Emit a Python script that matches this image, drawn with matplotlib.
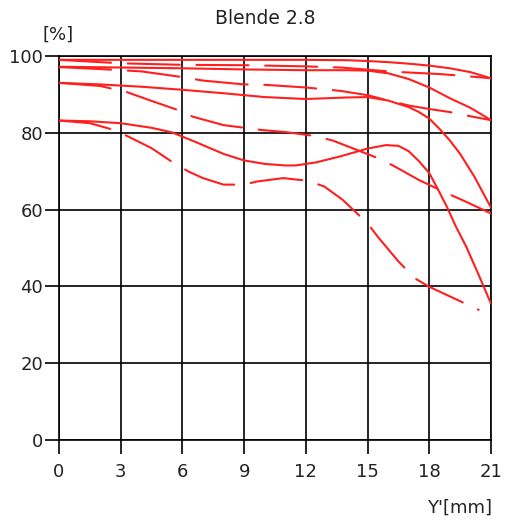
import matplotlib
matplotlib.use("Agg")
import matplotlib.pyplot as plt

# ---- data ----
x_ticks = [0, 3, 6, 9, 12, 15, 18, 21]
y_ticks = [0, 20, 40, 60, 80, 100]

c1s_x = [0, 3, 6, 9, 12, 14, 15, 16, 17, 18, 19, 20, 21]
c1s_y = [99, 99, 99, 99, 99, 98.9, 98.7, 98.4, 98, 97.5, 96.8, 95.8, 94.2]
c1d_x = [0, 3, 6, 9, 12, 13.7, 16, 17, 18.5, 19.7, 21]
c1d_y = [99, 98.1, 97.7, 97.6, 97.3, 97.0, 96.0, 95.7, 95.3, 94.8, 94.2]

c2s_x = [0, 3, 6, 9, 12, 14, 15, 16, 17, 18, 19, 20, 21]
c2s_y = [97.2, 97, 96.8, 96.5, 96.3, 96.3, 96.2, 95.5, 94, 91.8, 89, 86.5, 83.3]
c2d_x = [0, 2, 4, 6, 7, 9, 10, 12, 13.7, 15, 16, 17, 18, 19, 20, 21]
c2d_y = [97.1, 96.6, 96, 94.5, 93.6, 92.6, 92.5, 91.8, 90.9, 89.8, 88.4, 87.1, 86.2, 85.4, 84.3, 83.3]

c3s_x = [0, 2, 4, 6, 8, 10, 12, 14, 15, 16, 17, 17.5, 18, 18.5, 19, 19.5, 20.2, 21]
c3s_y = [93, 92.6, 92, 91.2, 90.3, 89.3, 88.8, 89.2, 89.3, 88.4, 86.7, 85.4, 83.7, 81, 78, 74.5, 68.5, 60.5]
c3d_x = [0, 2, 3.3, 4.5, 5.8, 6.5, 8, 9.9, 11, 12.4, 13.3, 14.5, 15.7, 16.5, 17.5, 18.8, 19.6, 21]
c3d_y = [93, 92.2, 90.6, 88.3, 85.9, 84.2, 82, 80.7, 80.2, 79.2, 78, 75.5, 73, 70.7, 67.7, 64.4, 62.5, 59]

c4s_x = [0, 1.5, 3, 4.5, 5.5, 6.6, 8, 9, 10, 11, 11.5, 12.5, 13.7, 15, 15.9, 16.5, 17, 17.5, 18, 18.4, 18.85, 19.3, 19.8, 20.4, 21]
c4s_y = [83.2, 83, 82.5, 81.3, 80.1, 77.7, 74.5, 72.8, 71.9, 71.5, 71.5, 72.3, 73.9, 75.9, 76.8, 76.6, 75.2, 72.6, 69.5, 65.5, 60.8, 55.5, 50.3, 43, 35.5]
c4d_x = [0, 1.5, 2.5, 3.3, 4.5, 5.56, 6.3, 7, 8, 9, 9.6, 10.9, 12.1, 12.9, 13.8, 15, 15.5, 16.5, 17.3, 18, 19, 20.4]
c4d_y = [83.2, 82.5, 81, 79.2, 76, 72.2, 69.9, 68.2, 66.5, 66.5, 67.3, 68.2, 67.5, 66, 62.5, 56.4, 52.9, 46.5, 42.1, 39.9, 37.4, 33.9]

solid_curves = [(c1s_x, c1s_y), (c2s_x, c2s_y), (c3s_x, c3s_y), (c4s_x, c4s_y)]
dashed_curves = [(c1d_x, c1d_y), (c2d_x, c2d_y), (c3d_x, c3d_y), (c4d_x, c4d_y)]

# ---- figure ----
W, H = 507, 525
fig = plt.figure(figsize=(W / 100, H / 100), dpi=100)
ax = fig.add_axes([59 / W, 1 - 440 / H, (491 - 59) / W, (440 - 56) / H])

red = "#ff1f1f"
for xs, ys in solid_curves:
    ax.plot(xs, ys, color=red, lw=1.5, solid_capstyle="round", solid_joinstyle="round", zorder=3)
for xs, ys in dashed_curves:
    ax.plot(xs, ys, color=red, lw=1.5, dashes=(25, 8), dash_capstyle="round",
            dash_joinstyle="round", zorder=3)

ax.set_xlim(0, 21)
ax.set_ylim(0, 100)
ax.set_xticks(x_ticks)
ax.set_yticks(y_ticks)
ax.set_xticklabels([str(v) for v in x_ticks])
ax.set_yticklabels([str(v) for v in y_ticks])
ax.grid(True, color="black", lw=1.2)
ax.set_axisbelow(True)
for s in ax.spines.values():
    s.set_color("black")
    s.set_linewidth(1.2)
ax.tick_params(axis="x", direction="out", length=10, width=1.2, pad=6.5, labelsize=13, labelcolor="#222222", color="black")
ax.tick_params(axis="y", direction="out", length=10, width=1.2, pad=1.5, labelsize=13, labelcolor="#222222", color="black")

fig.text(265 / W, 1 - 18 / H, "Blende 2.8", ha="center", va="center", fontsize=13.5, color="#222222")
fig.text(58 / W, 1 - 35 / H, "[%]", ha="center", va="center", fontsize=13, color="#222222")
fig.text(492 / W, 1 - 508 / H, "Y'[mm]", ha="right", va="center", fontsize=13, color="#222222")

fig.savefig("out.png", dpi=100)
